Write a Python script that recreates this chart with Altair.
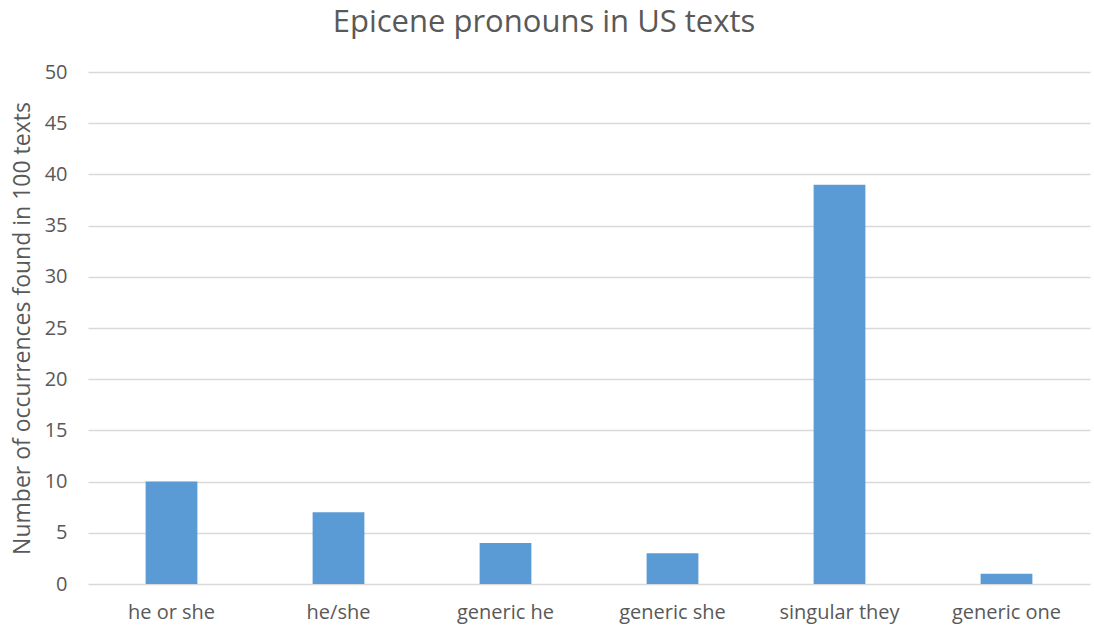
import altair as alt
import pandas as pd

categories = ["he or she", "he/she", "generic he", "generic she", "singular they", "generic one"]
values = [10, 7, 4, 3, 39, 1]

df = pd.DataFrame({"pronoun": categories, "count": values})

FONT = "Open Sans"
TXT = "#595959"

chart = alt.Chart(df).mark_bar(color="#5B9BD5").encode(
    x=alt.X("pronoun:N", sort=categories, title=None,
            scale=alt.Scale(paddingInner=0.69, paddingOuter=0.345),
            axis=alt.Axis(labelAngle=0, labelFont=FONT, labelFontSize=20, labelColor=TXT,
                          ticks=False, domain=False, labelPadding=18)),
    y=alt.Y("count:Q", title="Number of occurrences found in 100 texts",
            scale=alt.Scale(domain=[0, 50], nice=False),
            axis=alt.Axis(values=list(range(0, 51, 5)), labelFont=FONT, labelFontSize=20,
                          labelColor=TXT, ticks=False, domain=False, labelPadding=21,
                          gridColor="#D9D9D9", gridWidth=1.5,
                          titleFont=FONT, titleFontSize=23, titleColor=TXT,
                          titleFontWeight="normal", titlePadding=10)),
).properties(
    width=1002, height=512,
    title=alt.TitleParams("Epicene pronouns in US texts", font=FONT, fontSize=31,
                          color=TXT, fontWeight="normal", offset=23, dx=-45),
    autosize=alt.AutoSizeParams(type="none"),
    padding={"left": 88, "top": 72, "right": 4, "bottom": 46},
).configure_view(stroke=None)

chart.save("out.html", embed_options={"renderer": "svg", "actions": False})
